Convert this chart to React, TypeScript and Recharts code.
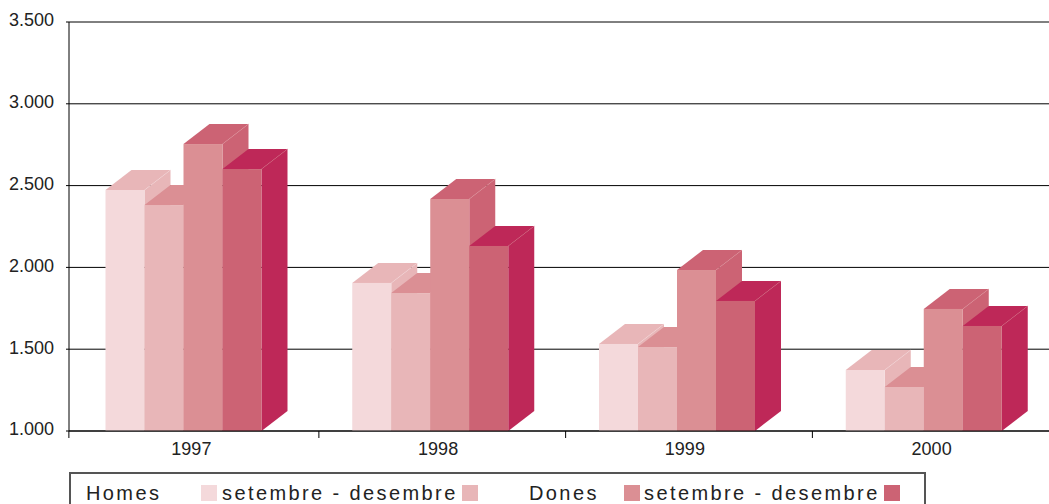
import React from 'react';
import { ComposedChart, Bar, XAxis, YAxis, CartesianGrid } from 'recharts';

const years = ['1997', '1998', '1999', '2000'];
const homesA = [2473, 1905, 1532, 1373];
const homesB = [2381, 1843, 1513, 1269];
const donesA = [2754, 2418, 1984, 1746];
const donesB = [2601, 2131, 1795, 1642];
const yTicks = [1000, 1500, 2000, 2500, 3000, 3500];
const fronts = ['#F4D9DB', '#E8B6B8', '#DB8F94', '#CC6374'];
const sides = ['#E8B6B8', '#DB8F94', '#CC6374', '#BE2858'];
const seriesKeys = ['homesA', 'homesB', 'donesA', 'donesB'];
const legendText = ['Homes', 'setembre - desembre', 'Dones', 'setembre - desembre'];

const rows = years.map((year, i) => ({
  year,
  homesA: homesA[i],
  homesB: homesB[i],
  donesA: donesA[i],
  donesB: donesB[i],
}));

const font = '"Liberation Sans", Arial, sans-serif';
const DX = 26;
const DY = 20;

function make3D(front: string, side: string) {
  return (p: any) => {
    const { x, y, width: w, height: h } = p;
    const r = x + w;
    const b = y + h;
    return (
      <g>
        <polygon points={`${x},${y} ${x + DX},${y - DY} ${r + DX},${y - DY} ${r},${y}`} fill={side} />
        <polygon points={`${r},${y} ${r + DX},${y - DY} ${r + DX},${b - DY} ${r},${b}`} fill={side} />
        <line x1={r} y1={y} x2={r + DX} y2={y - DY} stroke={front} strokeOpacity={0.6} strokeWidth={0.7} />
        <rect x={x} y={y} width={w} height={h} fill={front} />
      </g>
    );
  };
}

function YearTick(p: any) {
  const { x, y, index, payload } = p;
  return (
    <g>
      <text x={x + 7.5} y={y + 24} textAnchor="middle" fontFamily={font} fontSize={18} fill="#222">
        {payload.value}
      </text>
      <line x1={x + 135} y1={y} x2={x + 135} y2={y + 7} stroke="#000" />
      {index === 0 ? <line x1={x - 115} y1={y} x2={x - 115} y2={y + 7} stroke="#000" /> : null}
    </g>
  );
}

function Swatch({ left, color }: { left: number; color: string }) {
  return <div style={{ position: 'absolute', left, top: 11, width: 16, height: 16, background: color }} />;
}

function Label({ left, text }: { left: number; text: string }) {
  return (
    <div style={{ position: 'absolute', left, top: 8, fontFamily: font, fontSize: 20, lineHeight: '23px', letterSpacing: 2.4, color: '#222', whiteSpace: 'nowrap' }}>
      {text}
    </div>
  );
}

export default function App() {
  return (
    <div style={{ position: 'absolute', left: 0, top: 0, width: 1049, height: 504, overflow: 'hidden', background: '#fff' }}>
      <ComposedChart
        width={1049}
        height={504}
        data={rows}
        barSize={39}
        barGap={0}
        margin={{ top: 22, right: 0, bottom: 43, left: 0 }}
      >
        <CartesianGrid horizontal vertical={false} stroke="#000" strokeOpacity={1} />
        <XAxis
          dataKey="year"
          height={30}
          padding={{ left: -8.5, right: 1.5 }}
          tickLine={false}
          tickSize={0}
          tickMargin={0}
          axisLine={{ stroke: '#000' }}
          tick={YearTick}
          interval={0}
        />
        <YAxis
          width={69}
          domain={[1000, 3500]}
          ticks={yTicks}
          interval={0}
          tickSize={3}
          tickMargin={12}
          axisLine={{ stroke: '#000' }}
          tickLine={{ stroke: '#000' }}
          tick={{ fontFamily: font, fontSize: 18, fill: '#222', dy: -2 }}
          tickFormatter={(v: number) => v.toLocaleString('de-DE')}
        />
        {seriesKeys.map((k, i) => (
          <Bar key={k} dataKey={k} fill={fronts[i]} isAnimationActive={false} shape={make3D(fronts[i], sides[i])} />
        ))}
      </ComposedChart>
      <div style={{ position: 'absolute', left: 69, top: 472, width: 857, height: 40, border: '2px solid #555', boxSizing: 'border-box' }}>
        <Label left={15} text={legendText[0]} />
        <Swatch left={130} color={fronts[0]} />
        <Label left={151} text={legendText[1]} />
        <Swatch left={391} color={fronts[1]} />
        <Label left={458} text={legendText[2]} />
        <Swatch left={553} color={fronts[2]} />
        <Label left={573} text={legendText[3]} />
        <Swatch left={813} color={fronts[3]} />
      </div>
    </div>
  );
}
